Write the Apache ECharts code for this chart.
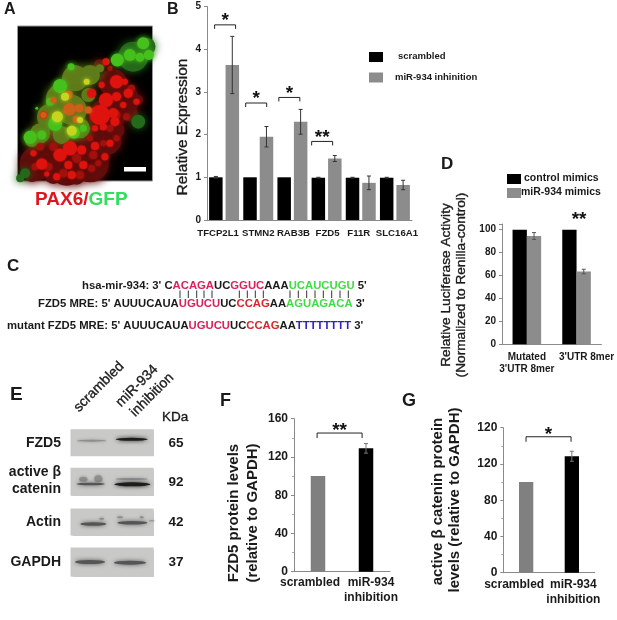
<!DOCTYPE html>
<html>
<head>
<meta charset="utf-8">
<style>
  html, body { margin: 0; padding: 0; background: #fff; }
  #main { width: 617px; height: 620px; }
  /* the source figure is a soft jpeg */
  #main canvas { filter: blur(0.35px); }
</style>
<script src="https://cdn.jsdelivr.net/npm/echarts@6/dist/echarts.min.js"></script>
</head>
<body>
<div id="main"></div>
<script>
// panel B
var bCategories = ['TFCP2L1', 'STMN2', 'RAB3B', 'FZD5', 'F11R', 'SLC16A1'];
var bScrambled = [1, 1, 1, 0.99, 0.99, 0.99];
var bScrambledErr = [0.02, 0, 0, 0.01, 0.01, 0.01];
var bInhibition = [3.63, 1.95, 2.3, 1.44, 0.87, 0.82];
var bInhibitionErr = [0.67, 0.24, 0.29, 0.07, 0.16, 0.11];
// [category position, bracket level, stars]
var bBrackets = [[0.03, 4.57, '*'], [0.94, 2.74, '*'], [1.91, 2.87, '*'], [2.87, 1.84, '**']];
var bTicks = [0, 1, 2, 3, 4, 5];

// panel D
var dCategories = ['Mutated\n3\'UTR 8mer', '3\'UTR 8mer'];
var dControl = [100, 100];
var dMimics = [94.5, 63.5];
var dMimicsErr = [3, 2];

// panel F
var fCategories = ['scrambled', 'miR-934\ninhibition'];
var fValues = [100, 129];
var fErr = [0, 5];

// panel G, the top tick really reads 120 in the source figure
var gCategories = ['scrambled', 'miR-934\ninhibition'];
var gValues = [100, 128.5];
var gErr = [0, 5.5];
var gTickLabels = { 0: '0', 40: '40', 80: '80', 120: '120', 160: '120' };

// panel A micrograph, blobs as [x, y, diameter] in crop units
var cellsDimRed = [[150, 440, 34], [110, 490, 34], [200, 500, 38], [270, 490, 38], [250, 430, 38], [320, 420, 30], [320, 350, 36],
  [370, 300, 32], [340, 250, 28], [390, 340, 16], [95, 525, 14], [160, 525, 18], [230, 530, 16], [290, 520, 12], [300, 195, 12],
  [350, 390, 16], [415, 300, 10]];
var cellsDimGreen = [[415, 365, 14], [75, 520, 10], [400, 170, 30], [440, 140, 18], [60, 535, 8]];
var cellsOlive = [[120, 400, 20], [150, 350, 26], [180, 295, 28], [225, 235, 26], [270, 225, 20], [215, 330, 30], [240, 385, 20],
  [185, 405, 18], [265, 285, 14], [95, 420, 14], [300, 205, 8]];
var cellsMidRed = [[230, 475, 9], [280, 465, 8], [190, 520, 8], [240, 525, 8], [145, 500, 8], [105, 500, 7], [160, 440, 8], [120, 440, 7],
  [275, 505, 7], [310, 430, 6], [350, 415, 6], [380, 350, 7], [395, 265, 7], [330, 205, 5], [270, 415, 6], [330, 385, 7], [295, 490, 6], [350, 345, 8]];
var cellsRed = [[350, 245, 13], [318, 300, 14], [300, 345, 20], [350, 290, 9], [340, 340, 10], [385, 280, 9], [370, 315, 6],
  [410, 305, 6], [345, 365, 9], [310, 380, 7], [210, 445, 14], [180, 465, 13], [125, 492, 11], [205, 495, 8], [245, 450, 9],
  [285, 438, 8], [250, 495, 8], [215, 525, 8], [170, 530, 7], [140, 522, 5], [315, 470, 7], [330, 430, 7], [275, 280, 9],
  [305, 255, 6], [318, 185, 7], [375, 245, 6], [285, 385, 6], [100, 460, 6], [130, 345, 7]];
var cellsGreen = [[430, 130, 12], [390, 165, 12], [352, 180, 13], [420, 172, 9], [447, 165, 10], [213, 200, 7], [90, 412, 13],
  [180, 258, 14], [165, 372, 14], [222, 398, 12], [150, 305, 8], [110, 325, 3], [125, 405, 9], [250, 385, 7]];
var cellsYellow = [[215, 392, 10], [172, 350, 11], [260, 245, 6], [195, 290, 8], [240, 360, 6]];
var cellsOrange = [[208, 328, 12], [238, 325, 8], [205, 285, 8], [160, 300, 6], [265, 330, 7], [228, 358, 7], [130, 345, 6]];

// panel E, [x, y, width, height] in crop units
var blotBoxes = [[336, 278, 83, 27], [336, 395, 83, 28], [336, 516, 83, 27], [336, 636, 83, 29]];
var bandsFaint = [[275, 272, 29, 2], [250, 388, 8, 5], [295, 386, 8, 7], [395, 387, 32, 2], [305, 506, 5, 2], [360, 502, 6, 2], [425, 502, 4, 2], [455, 512, 6, 1]];
var bandsMedium = [[272, 402, 28, 2.5], [280, 522, 26, 3.5], [397, 518, 30, 3.5], [270, 636, 30, 4], [390, 638, 32, 4]];
var bandsDark = [[395, 268, 32, 3], [397, 403, 36, 4]];

var labelFont = 'Liberation Sans, Arial, sans-serif';

// draws an error whisker, args: which value column, which err column, px offset from the category centre
function errorSeries(grid, values, errs, offset, color) {
  return {
    type: 'custom', xAxisIndex: grid, yAxisIndex: grid, z: 5, silent: true,
    data: values.map(function (v, i) { return [i, v, errs[i]]; }),
    renderItem: function (params, api) {
      var err = api.value(2);
      var hi = api.coord([api.value(0), api.value(1) + err]);
      var lo = api.coord([api.value(0), api.value(1) - err]);
      var x = hi[0] + offset, cap = 2;
      var ls = { stroke: color, lineWidth: 1 };
      if (!err) return null;
      return {
        type: 'group',
        children: [
          { type: 'line', shape: { x1: x, y1: hi[1], x2: x, y2: lo[1] }, style: ls },
          { type: 'line', shape: { x1: x - cap, y1: hi[1], x2: x + cap, y2: hi[1] }, style: ls },
          { type: 'line', shape: { x1: x - cap, y1: lo[1], x2: x + cap, y2: lo[1] }, style: ls }
        ]
      };
    }
  };
}

// significance bracket with stars above it, half is the half width in px
function bracketSeries(grid, items, half, drop, starLift) {
  return {
    type: 'custom', xAxisIndex: grid, yAxisIndex: grid, z: 6, silent: true,
    data: items,
    renderItem: function (params, api) {
      var item = items[params.dataIndex];
      // category axes round fractions, so step from the whole category by hand
      var whole = Math.floor(item[0]);
      var base = api.coord([whole, item[1]]);
      var p = [base[0] + (item[0] - whole) * api.size([1, 0])[0], base[1]];
      var ls = { stroke: '#222', lineWidth: 1, fill: null };
      var kids = [{
        type: 'text', style: {
          text: item[2], x: p[0], y: p[1] - starLift,
          textAlign: 'center', textVerticalAlign: 'middle',
          font: 'bold 19px ' + labelFont, fill: '#111'
        }
      }];
      if (half) {
        kids.push({
          type: 'polyline',
          shape: { points: [[p[0] - half, p[1] + drop], [p[0] - half, p[1]], [p[0] + half, p[1]], [p[0] + half, p[1] + drop]] },
          style: ls
        });
      }
      return { type: 'group', children: kids };
    }
  };
}

function blobSeries(data, color, blur) {
  return {
    type: 'scatter', xAxisIndex: 0, yAxisIndex: 0, data: data, silent: true,
    symbolSize: function (d) { return d[2]; },
    itemStyle: { color: color, opacity: 1, shadowBlur: blur, shadowColor: color }
  };
}

function bandSeries(data, color, blur, symbol) {
  return {
    type: 'scatter', xAxisIndex: 1, yAxisIndex: 1, data: data, silent: true,
    symbol: symbol || 'circle',
    symbolSize: function (d) { return [d[2], d[3]]; },
    itemStyle: { color: color, opacity: 1, shadowBlur: blur, shadowColor: color }
  };
}

function barSeries(grid, name, values, color, width, gap) {
  return {
    type: 'bar', name: name, xAxisIndex: grid, yAxisIndex: grid, data: values,
    barWidth: width, barGap: gap, itemStyle: { color: color }
  };
}

function valueAxis(grid, max, interval, fontSize, fmt, extra) {
  var axis = {
    type: 'value', gridIndex: grid, min: 0, max: max, interval: interval,
    splitLine: { show: false },
    axisLine: { show: true, lineStyle: { color: '#8a8a8a' } },
    axisTick: { show: true, length: 3, lineStyle: { color: '#8a8a8a' } },
    axisLabel: { fontFamily: labelFont, fontWeight: 'bold', fontSize: fontSize, color: '#1a1a1a', margin: 6, formatter: fmt }
  };
  return Object.assign(axis, extra || {});
}

// category labels in the figure sit off-centre, rich padding pushes them about
function categoryAxis(grid, data, fontSize, shifts, margin, lineHeight) {
  var rich = {};
  shifts.forEach(function (s, i) {
    rich['c' + i] = {
      fontFamily: labelFont, fontWeight: 'bold', fontSize: fontSize, color: '#1a1a1a', lineHeight: lineHeight,
      padding: s < 0 ? [0, -2 * s, 0, 0] : [0, 0, 0, 2 * s]
    };
  });
  return {
    type: 'category', gridIndex: grid, data: data,
    axisLine: { lineStyle: { color: '#8a8a8a' } },
    axisTick: { show: false },
    axisLabel: {
      interval: 0, margin: margin, hideOverlap: false,
      formatter: function (v, i) {
        return v.split('\n').map(function (l) { return '{c' + i + '|' + l + '}'; }).join('\n');
      },
      rich: rich
    }
  };
}

function txt(text, x, y, size, opts) {
  opts = opts || {};
  var style = {
    text: text, fill: opts.color || '#1a1a1a',
    font: (opts.weight || 'bold') + ' ' + size + 'px ' + labelFont,
    textAlign: opts.align || 'left', textVerticalAlign: 'middle', rich: opts.rich
  };
  if (opts.thick) {
    style.stroke = '#1a1a1a';
    style.lineWidth = opts.thick;
  }
  return { type: 'text', x: x, y: y, rotation: opts.rot || 0, z: 50, style: style };
}

function box(x, y, w, h, color) {
  return { type: 'rect', shape: { x: x, y: y, width: w, height: h }, style: { fill: color }, z: 50 };
}

var seqStyle = {
  k: { font: 'bold 11.3px ' + labelFont, fill: '#1a1a1a' },
  r: { font: 'bold 11.3px ' + labelFont, fill: '#de1f5a' },
  d: { font: 'bold 11.3px ' + labelFont, fill: '#d8262c' },
  g: { font: 'bold 11.3px ' + labelFont, fill: '#3fdc45' },
  b: { font: 'bold 11.3px ' + labelFont, fill: '#3322bb' }
};

var pairTicks = [180, 188.3, 196.7, 204, 212, 239.3, 247.3, 255.3, 263.3, 290, 298.3, 306.7, 315, 323.3, 331.7, 340, 348.3];

var graphics = [
  txt('A', 4, 10, 16), txt('B', 167, 10, 16), txt('C', 7, 266, 17), txt('D', 441, 164, 17),
  txt('E', 10, 395, 19), txt('F', 220, 401, 18), txt('G', 402, 401, 18),
  box(124, 167, 22, 4.5, '#ffffff'),
  txt('{r|PAX6/}{g|GFP}', 35, 200, 19, { rich: {
    r: { font: 'bold 19px ' + labelFont, fill: '#e0161e' },
    g: { font: 'bold 19px ' + labelFont, fill: '#2ee05a' }
  } }),
  // B legend and title
  box(369, 52, 14, 10, '#000'), box(369, 72.5, 14, 10, '#8c8c8c'),
  txt('scrambled', 398, 56, 9.5), txt('miR-934 inhinition', 395, 77, 9.5),
  txt('Relative Expression', 183, 127, 15.5, { rot: Math.PI / 2, align: 'center', weight: 'normal', thick: 0.35 }),
  // D legend and title
  box(507, 174, 14, 10, '#000'), box(507, 188, 14, 10, '#8c8c8c'),
  txt('control mimics', 524, 178.5, 10.5), txt('miR-934 mimics', 521, 192.5, 10.5),
  txt('Relative Luciferase Activity', 446, 285, 13.7, { rot: Math.PI / 2, align: 'center', weight: 'normal', thick: 0.35 }),
  txt('(Normalized to Renilla-control)', 461, 285, 13.7, { rot: Math.PI / 2, align: 'center', weight: 'normal', thick: 0.35 }),
  // C sequences
  txt('{k|hsa-mir-934: 3\' C}{r|ACAGA}{k|UC}{r|GGUC}{k|AAA}{g|UCAUCUGU}{k| 5\'}', 82, 286, 11.3, { rich: seqStyle }),
  txt('{k|FZD5 MRE: 5\' AUUUCAUA}{r|UGUCU}{k|UC}{d|CCAG}{k|AA}{g|AGUAGACA}{k| 3\'}', 38, 303.5, 11.3, { rich: seqStyle }),
  txt('{k|mutant FZD5 MRE: 5\' AUUUCAUA}{r|UGUCU}{k|UC}{d|CCAG}{k|AA}{b|TTTTTTTT}{k| 3\'}', 7, 326, 11.3, { rich: seqStyle }),
  // E labels
  txt('scrambled', 99, 387, 14, { rot: Math.PI / 4, align: 'center', weight: 'normal', thick: 0.35 }),
  txt('miR-934', 137, 386, 14, { rot: Math.PI / 4, align: 'center', weight: 'normal', thick: 0.35 }),
  txt('inhibition', 152, 395, 14, { rot: Math.PI / 4, align: 'center', weight: 'normal', thick: 0.35 }),
  txt('KDa', 162, 417, 13.5, { weight: 'normal', thick: 0.35 }),
  txt('FZD5', 61, 443, 14, { align: 'right' }),
  txt('active β', 61, 472, 14, { align: 'right' }),
  txt('catenin', 61, 489, 14, { align: 'right' }),
  txt('Actin', 61, 522.5, 14, { align: 'right' }),
  txt('GAPDH', 61, 562.5, 14, { align: 'right' }),
  txt('65', 176, 443, 13.5, { align: 'center' }), txt('92', 176, 482.5, 13.5, { align: 'center' }),
  txt('42', 176, 522.5, 13.5, { align: 'center' }), txt('37', 176, 562.5, 13.5, { align: 'center' }),
  // F and G titles
  txt('FZD5 protein levels', 234, 513, 15, { rot: Math.PI / 2, align: 'center' }),
  txt('(relative to GAPDH)', 253, 513, 15, { rot: Math.PI / 2, align: 'center' }),
  txt('active β catenin protein', 438, 501.5, 15, { rot: Math.PI / 2, align: 'center' }),
  txt('levels (relative to GAPDH)', 455, 500, 15, { rot: Math.PI / 2, align: 'center' })
];
pairTicks.forEach(function (x) {
  graphics.push({ type: 'line', shape: { x1: x, y1: 290.5, x2: x, y2: 298 }, style: { stroke: '#333', lineWidth: 1 }, z: 40 });
});

var hiddenAxis = function (grid, min, max, inverse) {
  return { type: 'value', gridIndex: grid, min: min, max: max, inverse: inverse, show: false };
};

var option = {
  animation: false,
  backgroundColor: '#ffffff',
  grid: [
    { left: 17.5, top: 26, width: 135, height: 155, show: true, backgroundColor: '#000', borderColor: '#999', borderWidth: 1 },
    { left: 0, top: 350, width: 220, height: 240 },
    { left: 207, top: 6.5, width: 205, height: 213.5 },
    { left: 502, top: 224, width: 100, height: 120.3 },
    { left: 294, top: 418.7, width: 96, height: 153 },
    { left: 503.3, top: 427.7, width: 91.4, height: 145 }
  ],
  xAxis: [
    hiddenAxis(0, 52, 458, false),
    hiddenAxis(1, 0, 660, false),
    categoryAxis(2, bCategories, 9.6, [-6, 0, 1, 1, -2, 2], 7, 12),
    categoryAxis(3, dCategories, 10, [0, 10], 7, 12),
    categoryAxis(4, fCategories, 12, [-8, 5], 4, 14.5),
    categoryAxis(5, gCategories, 12, [-12, 1.5], 4, 15)
  ],
  yAxis: [
    hiddenAxis(0, 78, 543, true),
    hiddenAxis(1, 0, 720, true),
    valueAxis(2, 5, 1, 10, function (v) { return bTicks.indexOf(v) >= 0 ? v : ''; }),
    valueAxis(3, 105, 20, 10, function (v) { return v <= 100 ? v : ''; }),
    valueAxis(4, 160, 40, 12, null, { minorTick: { show: true, splitNumber: 2, length: 2, lineStyle: { color: '#aaa' } } }),
    valueAxis(5, 160, 40, 12, function (v) { return gTickLabels[v]; },
      { minorTick: { show: true, splitNumber: 2, length: 2, lineStyle: { color: '#aaa' } } })
  ],
  graphic: graphics,
  series: [
    blobSeries(cellsDimRed, '#600d0c', 10),
    blobSeries(cellsDimGreen, '#25691b', 8),
    blobSeries(cellsOlive, '#5f7c1a', 8),
    blobSeries(cellsMidRed, '#a0110d', 3),
    blobSeries(cellsRed, '#df130e', 2),
    blobSeries(cellsGreen, '#46c01c', 5),
    blobSeries(cellsOrange, '#cf5f18', 3),
    blobSeries(cellsYellow, '#c6d61e', 4),

    bandSeries(blotBoxes, '#c9c9c7', 1, 'rect'),
    bandSeries(bandsFaint, '#8f8f8f', 3),
    bandSeries(bandsMedium, '#555555', 4),
    bandSeries(bandsDark, '#1c1c1c', 4),

    barSeries(2, 'scrambled', bScrambled, '#000', 13.5, '22%'),
    barSeries(2, 'miR-934 inhinition', bInhibition, '#8c8c8c', 13.5, '22%'),
    errorSeries(2, bScrambled, bScrambledErr, -8.2, '#333'),
    errorSeries(2, bInhibition, bInhibitionErr, 8.2, '#333'),
    bracketSeries(2, bBrackets, 10.5, 4, 4),

    barSeries(3, 'control mimics', dControl, '#000', 14.3, 0),
    barSeries(3, 'miR-934 mimics', dMimics, '#8c8c8c', 14.3, 0),
    errorSeries(3, dMimics, dMimicsErr, 7.2, '#555'),
    bracketSeries(3, [[1.05, 110, '**']], 0, 0, -1),

    barSeries(4, 'scrambled F', fValues, function (p) { return p.dataIndex ? '#000' : '#808080'; }, 14.5, 0),
    errorSeries(4, fValues, fErr, 0, '#777'),
    bracketSeries(4, [[0.45, 145, '**']], 22.5, 5, 2),

    barSeries(5, 'scrambled G', gValues, function (p) { return p.dataIndex ? '#000' : '#808080'; }, 14.3, 0),
    errorSeries(5, gValues, gErr, 0, '#777'),
    bracketSeries(5, [[0.49, 150, '*']], 22.5, 5, 2)
  ]
};

var chart = echarts.init(document.getElementById('main'), null, { renderer: 'canvas' });
chart.setOption(option);
window.addEventListener('resize', chart.resize);
</script>
</body>
</html>
